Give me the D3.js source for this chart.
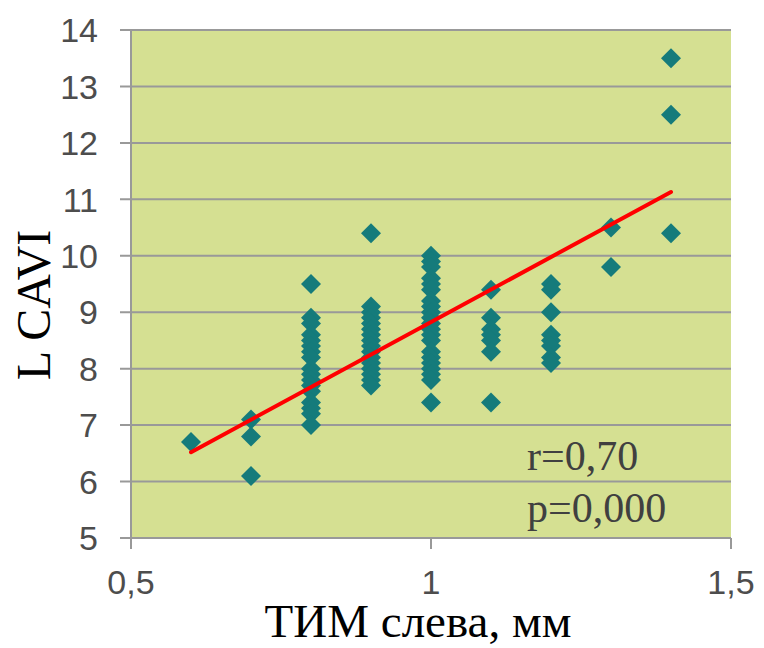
<!DOCTYPE html>
<html><head><meta charset="utf-8">
<script src="https://cdn.jsdelivr.net/npm/d3@7/dist/d3.min.js"></script>
<style>body{margin:0;background:#fff}</style>
</head><body>
<script>
const y06 = [6.7];
const y07 = [7.1, 6.8, 6.1];
const y08 = [9.5, 8.9, 8.8, 8.6, 8.5, 8.4, 8.3, 8.2, 8.0, 7.9, 7.8, 7.7, 7.6, 7.4, 7.3, 7.2, 7.0];
const y09 = [10.4, 9.1, 9.0, 8.9, 8.8, 8.7, 8.6, 8.5, 8.4, 8.3, 8.2, 8.1, 8.0, 7.9, 7.8, 7.7];
const y10 = [10.0, 9.9, 9.8, 9.6, 9.5, 9.4, 9.2, 9.1, 9.0, 8.9, 8.8, 8.7, 8.6, 8.5, 8.3, 8.2, 8.1, 8.0, 7.9, 7.8, 7.4];
const y11 = [9.4, 8.9, 8.7, 8.6, 8.5, 8.3, 7.4];
const y12 = [9.5, 9.4, 9.0, 8.6, 8.5, 8.4, 8.2, 8.1];
const y13 = [10.5, 9.8];
const y14 = [13.5, 12.5, 10.4];
const groupX = [0.6, 0.7, 0.8, 0.9, 1.0, 1.1, 1.2, 1.3, 1.4];
const groupY = [y06, y07, y08, y09, y10, y11, y12, y13, y14];
const trendX = [0.6, 1.4];
const trendY = [6.52, 11.13];
const xTicks = [0.5, 1, 1.5];
const xTickLabels = ["0,5", "1", "1,5"];
const yTicks = [5, 6, 7, 8, 9, 10, 11, 12, 13, 14];
const statLines = ["r=0,70", "p=0,000"];

const W = 764, H = 648;
const L = 131, R = 731, T = 30, B = 538;
const svg = d3.select("body").append("svg").attr("width", W).attr("height", H);
const x = d3.scaleLinear().domain([0.5, 1.5]).range([L, R]);
const y = d3.scaleLinear().domain([5, 14]).range([B, T]);

svg.append("rect").attr("x", L).attr("y", T).attr("width", R - L).attr("height", B - T).attr("fill", "#d5e092");

svg.append("g").selectAll("line").data(yTicks).join("line")
  .attr("x1", L - 11).attr("x2", R).attr("y1", d => y(d)).attr("y2", d => y(d))
  .attr("stroke", "#999").attr("stroke-width", 2);
svg.append("line").attr("x1", L).attr("x2", L).attr("y1", T).attr("y2", B).attr("stroke", "#999").attr("stroke-width", 2);
svg.append("g").selectAll("line").data(xTicks).join("line")
  .attr("x1", d => x(d)).attr("x2", d => x(d)).attr("y1", B).attr("y2", B + 11)
  .attr("stroke", "#999").attr("stroke-width", 2);

svg.append("g").selectAll("text").data(yTicks).join("text")
  .attr("x", 98).attr("y", d => y(d)).attr("dy", "0.36em").attr("text-anchor", "end")
  .attr("font-family", "Liberation Sans, Arial, sans-serif").attr("font-size", 34).attr("fill", "#4d4d4d")
  .text(d => d);
svg.append("g").selectAll("text").data(xTicks).join("text")
  .attr("x", d => x(d)).attr("y", 594).attr("text-anchor", "middle")
  .attr("font-family", "Liberation Sans, Arial, sans-serif").attr("font-size", 34).attr("fill", "#4d4d4d")
  .text((d, i) => xTickLabels[i]);

const pts = [];
groupX.forEach((gx, i) => groupY[i].forEach(v => pts.push([gx, v])));
const diamond = d3.symbol().type(d3.symbolSquare).size(200);
svg.append("g").selectAll("path").data(pts).join("path")
  .attr("d", diamond())
  .attr("transform", d => `translate(${x(d[0])},${y(d[1])}) rotate(45)`)
  .attr("fill", "#157b7b");

svg.append("line")
  .attr("x1", x(trendX[0])).attr("y1", y(trendY[0]))
  .attr("x2", x(trendX[1])).attr("y2", y(trendY[1]))
  .attr("stroke", "#ff0000").attr("stroke-width", 4).attr("stroke-linecap", "round");

svg.append("g").selectAll("text").data(statLines).join("text")
  .attr("x", 527).attr("y", (d, i) => 470 + i * 52)
  .attr("font-family", "Liberation Serif, Times New Roman, serif").attr("font-size", 42).attr("fill", "#404040")
  .text(d => d);

svg.append("text").attr("x", 418).attr("y", 637).attr("text-anchor", "middle")
  .attr("font-family", "Liberation Serif, Times New Roman, serif").attr("font-size", 47).attr("fill", "#000")
  .text("ТИМ слева, мм");
svg.append("text").attr("transform", "translate(50,305) rotate(-90)").attr("text-anchor", "middle")
  .attr("font-family", "Liberation Serif, Times New Roman, serif").attr("font-size", 48).attr("fill", "#000")
  .text("L CAVI");
</script>
</body></html>
